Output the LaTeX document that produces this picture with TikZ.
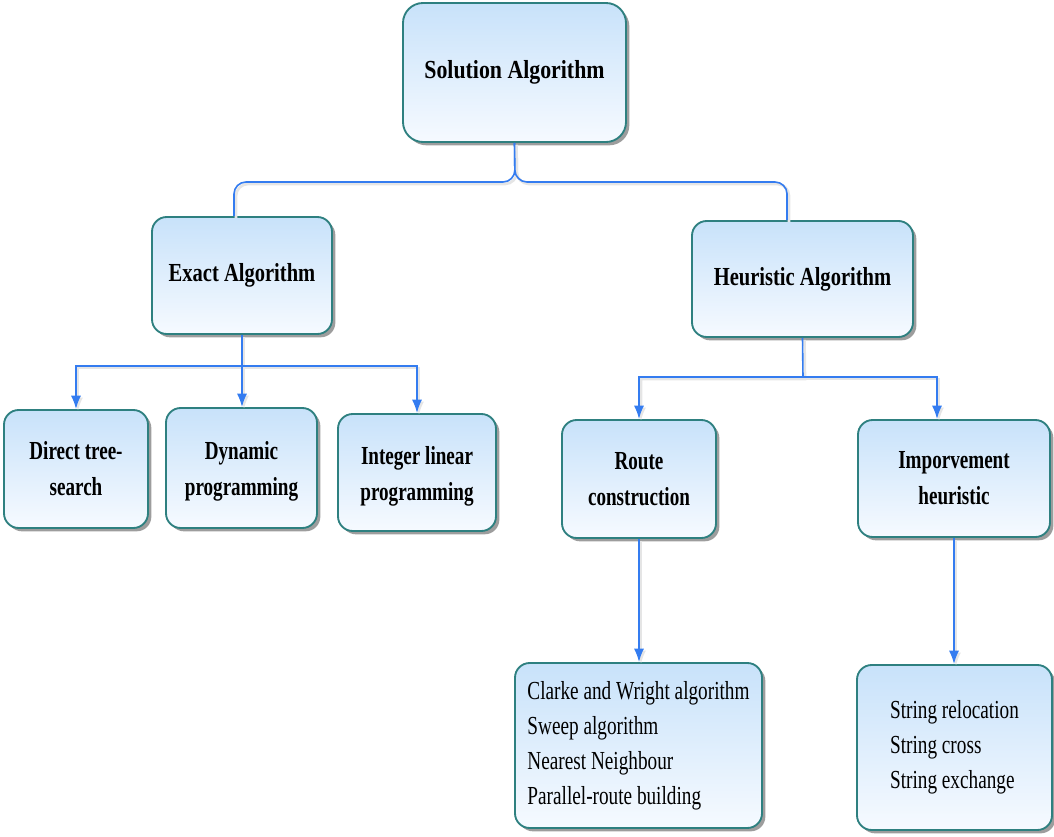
\documentclass[tikz,border=0pt]{standalone}
\usepackage{fontspec}
\setmainfont{Liberation Serif}[FakeStretch=0.74]
\newfontfamily\solfont{Liberation Serif}[FakeStretch=0.84]
\newfontfamily\midfont{Liberation Serif}[FakeStretch=0.79]
\newfontfamily\lowfont{Liberation Serif}[FakeStretch=0.735]
\usetikzlibrary{arrows.meta,shadows}
\definecolor{boxedge}{RGB}{46,128,128}
\definecolor{boxtop}{RGB}{200,226,250}
\definecolor{boxbot}{RGB}{246,250,255}
\definecolor{wirecol}{RGB}{52,124,240}
\begin{document}
\begin{tikzpicture}[x=0.75pt,y=-0.75pt,
  card/.style={draw=boxedge, line width=1.4pt, rounded corners=11pt,
    top color=boxtop, bottom color=boxbot, inner sep=0pt, align=center,
    font=\lowfont\fontsize{19.5}{27}\selectfont\bfseries,
    drop shadow={shadow xshift=2.5pt, shadow yshift=-2.5pt, fill=black!70, opacity=0.55}},
  rootcard/.style={card, font=\solfont\fontsize{19.5}{27}\selectfont\bfseries, rounded corners=15pt},
  midcard/.style={card, font=\midfont\fontsize{19.5}{27}\selectfont\bfseries},
  listcard/.style={card, font=\fontsize{19.5}{26.3}\selectfont, align=left},
  sized/.style 2 args={minimum width=#1*0.75pt, minimum height=#2*0.75pt},
  wire/.style={draw=wirecol, line width=1.2pt,
    preaction={draw=black!10, line width=2pt, transform canvas={shift={(1.5pt,-1.5pt)}}}},
  feed/.style={wire, -{Latex[length=10pt,width=7.5pt]}}
]
\useasboundingbox (0,0) rectangle (1054,837);

% boxes
\node[rootcard, sized={223}{139}] (sol) at (514.5,72.5) {Solution Algorithm};
\node[midcard, sized={180}{117}] (exact) at (242,275.5) {Exact Algorithm};
\node[midcard, sized={221}{116}] (heur) at (802.5,279) {Heuristic Algorithm};
\node[card, sized={144}{118}] (direct) at (76,469) {Direct tree-\\search};
\node[card, sized={151}{120}] (dyn) at (241.5,468) {\strut Dynamic\\programming};
\node[card, sized={158}{117}] (ilp) at (417,472.5) {\strut Integer linear\\programming};
\node[card, sized={154}{118}] (route) at (639,479) {Route\\construction};
\node[card, sized={192}{117}] (impr) at (954,478.5) {Imporvement\\heuristic};
\node[listcard, sized={247}{165}] (clarke) at (638.5,745.5)
  {Clarke and Wright algorithm\\Sweep algorithm\\Nearest Neighbour\\Parallel-route building};
\node[listcard, sized={195}{165}] (str) at (954.5,747.5)
  {String relocation\\String cross\\String exchange};

% top split
\coordinate (brace) at (515,182);
\draw[wire, rounded corners=9pt] (sol.south) -- (brace) -| ([xshift=-6pt]exact.north);
\draw[wire, rounded corners=9pt] (sol.south) -- (brace) -| ([xshift=-11.6pt]heur.north);

% exact branch
\coordinate (ej) at (242,366);
\draw[feed] (exact.south) -- (ej) -| (direct.north);
\draw[feed] (exact.south) -- (exact.south |- dyn.north);
\draw[feed] (ej) -| (ilp.north);

% heuristic branch
\coordinate (hj) at (803,377);
\draw[feed] (heur.south) -- (hj) -| (route.north);
\draw[feed] (hj) -| ([xshift=-12.75pt]impr.north);

% method lists
\draw[feed] (route.south) -- (route.south |- clarke.north);
\draw[feed] (impr.south) -- (impr.south |- str.north);
\end{tikzpicture}
\end{document}
